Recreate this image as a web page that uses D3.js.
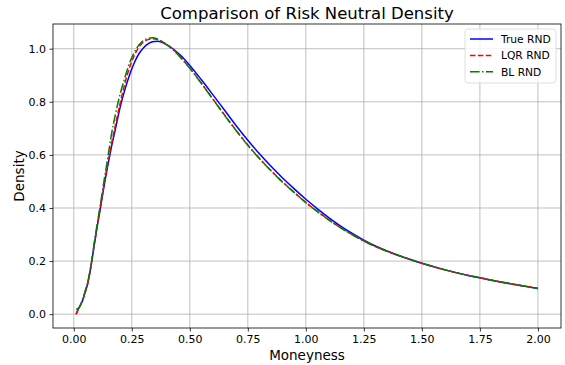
<!DOCTYPE html>
<html lang="en">
<head>
<meta charset="UTF-8" />
<title>Comparison of Risk Neutral Density</title>
<script src="https://d3js.org/d3.v7.min.js"></script>
<style>
  html, body { margin: 0; padding: 0; background: #fff; }
  svg { display: block; font-family: "DejaVu Sans", sans-serif; }
  .grid line { stroke: #b0b0b0; stroke-width: 0.8; }
  .rnd { fill: none; stroke-width: 1.5; }
</style>
</head>
<body>
<div id="chart"></div>
<script>
// moneyness grid
const moneyness = [0.01, 0.02, 0.035, 0.05, 0.06, 0.075, 0.09, 0.10, 0.115, 0.13, 0.145, 0.16, 0.18, 0.20,
  0.22, 0.24, 0.26, 0.28, 0.30, 0.32, 0.34, 0.36, 0.38, 0.40, 0.43, 0.46, 0.50, 0.55, 0.60, 0.65,
  0.70, 0.75, 0.80, 0.85, 0.90, 0.95, 1.00, 1.05, 1.10, 1.15, 1.20, 1.25, 1.30, 1.35, 1.40, 1.45,
  1.50, 1.60, 1.70, 1.75, 1.80, 1.90, 2.00];

const trueRnd = [0.0, 0.02, 0.045, 0.085, 0.115, 0.185, 0.27, 0.325, 0.40, 0.48, 0.553, 0.62, 0.70, 0.78,
  0.845, 0.90, 0.945, 0.98, 1.003, 1.018, 1.026, 1.028, 1.024, 1.015, 0.998, 0.975, 0.937, 0.883, 0.826, 0.768,
  0.710, 0.655, 0.604, 0.557, 0.513, 0.472, 0.433, 0.397, 0.363, 0.332, 0.304, 0.279, 0.257, 0.238, 0.221, 0.206,
  0.192, 0.167, 0.146, 0.137, 0.128, 0.112, 0.097];

const lqrRnd = [0.0, 0.02, 0.045, 0.085, 0.115, 0.187, 0.272, 0.328, 0.405, 0.485, 0.56, 0.63, 0.715, 0.795,
  0.868, 0.928, 0.973, 1.005, 1.024, 1.034, 1.037, 1.035, 1.027, 1.016, 0.995, 0.968, 0.927, 0.870, 0.810, 0.750,
  0.692, 0.637, 0.587, 0.541, 0.498, 0.459, 0.421, 0.387, 0.355, 0.326, 0.300, 0.276, 0.255, 0.237, 0.221, 0.206,
  0.192, 0.167, 0.146, 0.137, 0.128, 0.112, 0.097];

const blRnd = [0.02, 0.022, 0.05, 0.09, 0.12, 0.19, 0.28, 0.335, 0.415, 0.50, 0.58, 0.665, 0.755, 0.83,
  0.89, 0.945, 0.985, 1.013, 1.03, 1.039, 1.041, 1.037, 1.027, 1.015, 0.994, 0.967, 0.926, 0.869, 0.809, 0.749,
  0.691, 0.636, 0.586, 0.540, 0.497, 0.458, 0.420, 0.386, 0.354, 0.325, 0.299, 0.275, 0.255, 0.237, 0.221, 0.206,
  0.192, 0.167, 0.146, 0.137, 0.128, 0.112, 0.097];

const xTicks = [0, 0.25, 0.5, 0.75, 1.0, 1.25, 1.5, 1.75, 2.0];
const yTicks = [0, 0.2, 0.4, 0.6, 0.8, 1.0];

const series = [
  { name: "True RND", values: trueRnd, color: "#0000ff", dash: null },
  { name: "LQR RND", values: lqrRnd, color: "#ff0000", dash: "5.5,2.4" },
  { name: "BL RND", values: blRnd, color: "#008000", dash: "9.6,2.4,1.5,2.4" }
];

const width = 565, height = 365;
const margin = { top: 24, right: 4, bottom: 37, left: 53 };
const iw = width - margin.left - margin.right;
const ih = height - margin.top - margin.bottom;

const svg = d3.select("#chart").append("svg")
  .attr("width", width)
  .attr("height", height);

const g = svg.append("g").attr("transform", `translate(${margin.left},${margin.top})`);

const x = d3.scaleLinear().domain([-0.0895, 2.0995]).range([0, iw]);
const y = d3.scaleLinear().domain([-0.052, 1.093]).range([ih, 0]);

// grid
g.append("g").attr("class", "grid")
  .selectAll("line").data(xTicks).join("line")
  .attr("x1", d => x(d)).attr("x2", d => x(d))
  .attr("y1", 0).attr("y2", ih);
g.append("g").attr("class", "grid")
  .selectAll("line").data(yTicks).join("line")
  .attr("x1", 0).attr("x2", iw)
  .attr("y1", d => y(d)).attr("y2", d => y(d));

// axes
const xAxis = g.append("g").attr("transform", `translate(0,${ih})`)
  .call(d3.axisBottom(x).tickValues(xTicks).tickFormat(d3.format(".2f")).tickSize(3.5).tickPadding(3.5));
const yAxis = g.append("g")
  .call(d3.axisLeft(y).tickValues(yTicks).tickFormat(d3.format(".1f")).tickSize(3.5).tickPadding(3.5));
[xAxis, yAxis].forEach(a => {
  a.select(".domain").remove();
  a.selectAll(".tick line").attr("stroke", "#000").attr("stroke-width", 0.8);
  a.selectAll(".tick text").attr("font-family", "DejaVu Sans").attr("font-size", 11).attr("fill", "#000");
});

// lines
const line = d3.line()
  .x(d => x(d[0]))
  .y(d => y(d[1]))
  .curve(d3.curveMonotoneX);

const plot = g.append("g");
series.forEach(s => {
  plot.append("path")
    .attr("class", "rnd")
    .attr("d", line(moneyness.map((m, i) => [m, s.values[i]])))
    .attr("stroke", s.color)
    .attr("stroke-dasharray", s.dash);
});

// frame
g.append("rect")
  .attr("width", iw).attr("height", ih)
  .attr("fill", "none").attr("stroke", "#000").attr("stroke-width", 0.8);

// legend
const lg = g.append("g").attr("transform", `translate(${iw - 96},5)`);
lg.append("rect")
  .attr("width", 91).attr("height", 54).attr("rx", 3)
  .attr("fill", "#fff").attr("fill-opacity", 0.8)
  .attr("stroke", "#d6d6d6").attr("stroke-width", 0.8);
series.forEach((s, i) => {
  const yy = 10 + i * 16.4;
  lg.append("line")
    .attr("x1", 5).attr("x2", 28).attr("y1", yy).attr("y2", yy)
    .attr("stroke", s.color).attr("stroke-width", 1.5)
    .attr("stroke-dasharray", s.dash);
  lg.append("text")
    .attr("x", 36).attr("y", yy).attr("dy", "0.35em")
    .attr("font-size", 10.7).attr("fill", "#000")
    .text(s.name);
});

// labels
svg.append("text")
  .attr("x", margin.left + iw / 2).attr("y", 19)
  .attr("text-anchor", "middle").attr("font-size", 16.5).attr("fill", "#000")
  .text("Comparison of Risk Neutral Density");
svg.append("text")
  .attr("x", margin.left + iw / 2).attr("y", 360)
  .attr("text-anchor", "middle").attr("font-size", 13.5).attr("fill", "#000")
  .text("Moneyness");
svg.append("text")
  .attr("transform", `translate(24,${margin.top + ih / 2}) rotate(-90)`)
  .attr("text-anchor", "middle").attr("font-size", 13.5).attr("fill", "#000")
  .text("Density");
</script>
</body>
</html>
